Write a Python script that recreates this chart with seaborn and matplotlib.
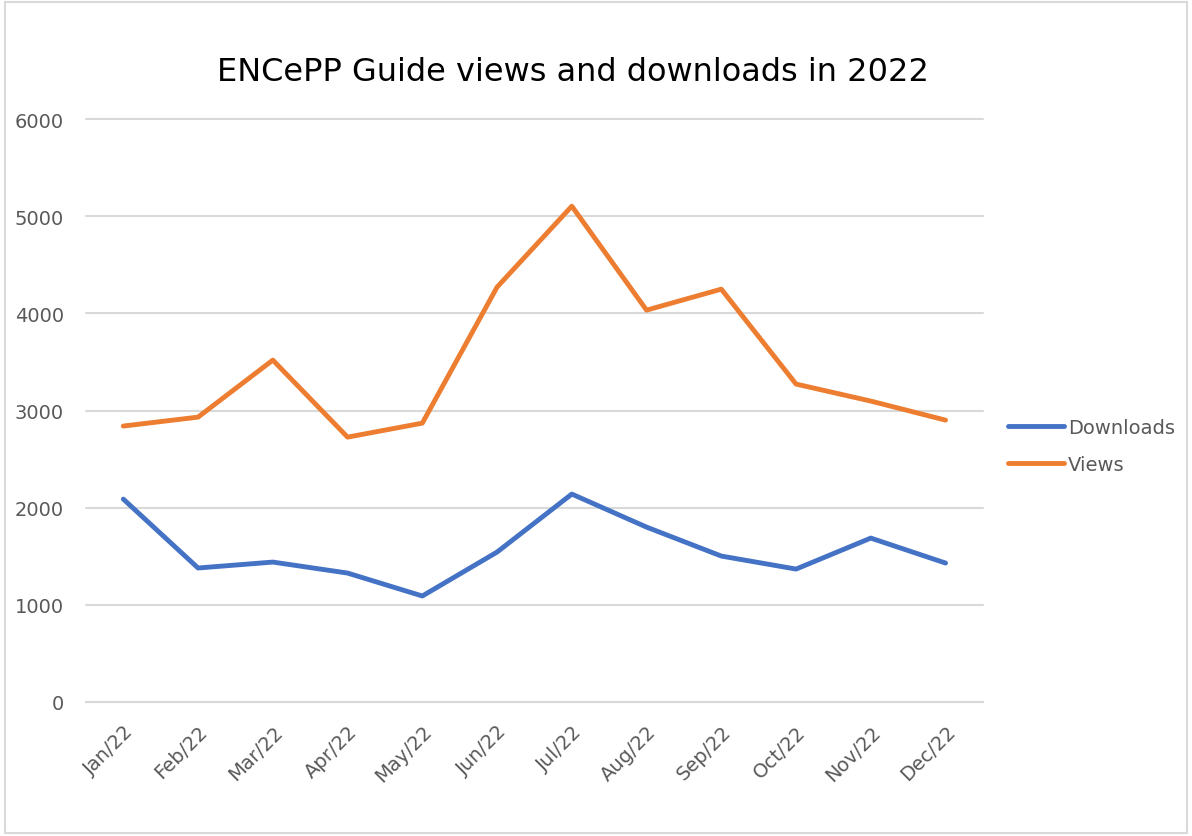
import numpy as np
import pandas as pd
import matplotlib.pyplot as plt
import seaborn as sns
from matplotlib.patches import Rectangle

# %%
months = ["Jan/22", "Feb/22", "Mar/22", "Apr/22", "May/22", "Jun/22",
          "Jul/22", "Aug/22", "Sep/22", "Oct/22", "Nov/22", "Dec/22"]
downloads = [2088, 1379, 1440, 1327, 1091, 1543, 2140, 1800, 1502, 1368, 1687, 1430]
views = [2840, 2932, 3519, 2726, 2870, 4270, 5103, 4033, 4249, 3272, 3097, 2901]

df = pd.DataFrame({
    "month": months * 2,
    "value": downloads + views,
    "series": ["Downloads"] * len(months) + ["Views"] * len(months),
})
df["pos"] = df["month"].map({m: i for i, m in enumerate(months)})

# %%
sns.set_style("white")
plt.rcParams["font.family"] = ["DejaVu Sans"]

COR_GRADE = "#D9D9D9"
COR_TEXTO = "#595959"

fig = plt.figure(figsize=(11.92, 8.37), dpi=100)
ax = fig.add_axes([0.0721, 0.1601, 0.7525, 0.6965])

sns.lineplot(data=df, x="pos", y="value", hue="series",
             palette={"Downloads": "#4472C4", "Views": "#ED7D31"},
             linewidth=3.5, ax=ax, legend=True)

ax.set_xlim(-0.5, len(months) - 0.5)
ax.set_ylim(0, 6000)
ax.set_yticks(np.arange(0, 6001, 1000))
ax.yaxis.grid(True, color=COR_GRADE, linewidth=1.5)
for gl in ax.get_ygridlines():
    gl.set_clip_on(False)
ax.set_axisbelow(True)
for s in ["top", "right", "left"]:
    ax.spines[s].set_visible(False)
ax.spines["bottom"].set_color(COR_GRADE)
ax.spines["bottom"].set_linewidth(1.5)

ax.set_xticks(np.arange(len(months)))
ax.set_xticklabels(months, rotation=45, ha="right", rotation_mode="anchor")
ax.set_xticks(np.arange(-0.5, len(months)), minor=True)
ax.tick_params(axis="x", which="major", length=0, pad=14, labelsize=14, labelcolor=COR_TEXTO)
ax.tick_params(axis="x", which="minor", length=6, width=1.5, color=COR_GRADE, direction="out")
ax.tick_params(axis="y", length=0, pad=16, labelsize=14, labelcolor=COR_TEXTO)
ax.set_xlabel("")
ax.set_ylabel("")

ax.legend(loc="center left", bbox_to_anchor=(0.831, 0.466), bbox_transform=fig.transFigure,
          frameon=False, fontsize=14, labelcolor=COR_TEXTO, handlelength=2.9,
          handletextpad=0.2, labelspacing=0.95)

fig.text(0.481, 0.913, "ENCePP Guide views and downloads in 2022",
         ha="center", va="center", fontsize=23, color="black")

fig.patches.append(Rectangle((0.004, 0.004), 0.992, 0.992, transform=fig.transFigure,
                             fill=False, edgecolor=COR_GRADE, linewidth=1.5))

plt.savefig("out.png", dpi=100, facecolor="white")
